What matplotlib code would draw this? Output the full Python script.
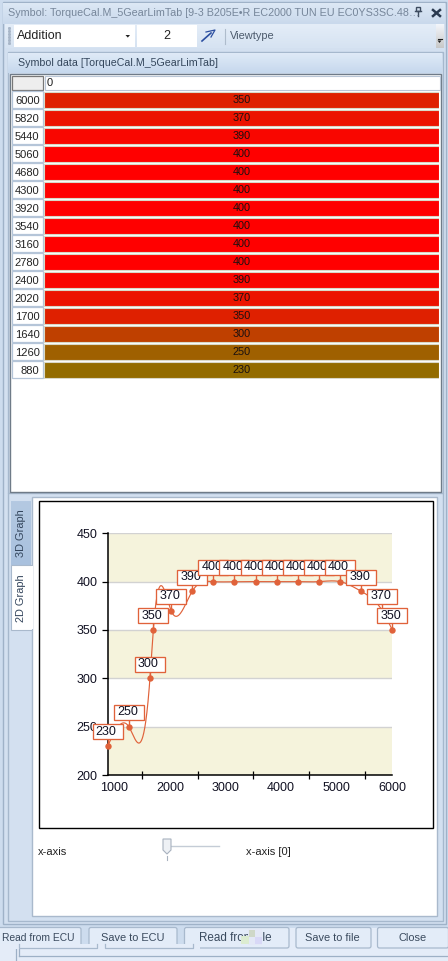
import numpy as np
import matplotlib
matplotlib.use("Agg")
import matplotlib.pyplot as plt
from matplotlib.patches import Rectangle, FancyBboxPatch, Polygon
from matplotlib.transforms import ScaledTranslation

plt.rcParams['font.family'] = ['Liberation Sans', 'DejaVu Sans']

# ---- data ----
rpm = [6000, 5820, 5440, 5060, 4680, 4300, 3920, 3540, 3160, 2780, 2400, 2020, 1700, 1640, 1260, 880]
torque = [350, 370, 390, 400, 400, 400, 400, 400, 400, 400, 390, 370, 350, 300, 250, 230]
x_labels = [1000, 2000, 3000, 4000, 5000, 6000]
x_minor = [1500, 2500, 3500, 4500, 5500]
y_ticks = [200, 250, 300, 350, 400, 450]
col_header = "0"
title_txt = "Symbol: TorqueCal.M_5GearLimTab [9-3 B205E\u2022R EC2000 TUN EU EC0YS3SC.48\u2026"
panel_txt = "Symbol data [TorqueCal.M_5GearLimTab]"
buttons = ["Read from ECU", "Save to ECU", "Read from file", "Save to file", "Close"]

W, H = 448, 961
fig = plt.figure(figsize=(W / 100, H / 100), dpi=100, facecolor="#cfdeef")

def box(x0, y0, x1, y1):
    """pixel box (top-left origin) to figure fraction rect"""
    return [x0 / W, 1 - y1 / H, (x1 - x0) / W, (y1 - y0) / H]

ui = fig.add_axes([0, 0, 1, 1], zorder=0)
ui.axis("off")

def rect(x0, y0, x1, y1, fc="none", ec="none", lw=0.8, z=1):
    ui.add_patch(Rectangle((x0, y0), x1 - x0, y1 - y0, fc=fc, ec=ec, lw=lw, zorder=z))

def grad(x0, y0, x1, y1, c0, c1, z=1):
    a = np.array(matplotlib.colors.to_rgb(c0))
    b = np.array(matplotlib.colors.to_rgb(c1))
    t = np.linspace(0, 1, 32)[:, None, None]
    ui.imshow(a[None, None, :] * (1 - t) + b[None, None, :] * t, extent=(x0, x1, y1, y0),
              aspect="auto", zorder=z, interpolation="bilinear")

def label(x, y, s, size=8, color="#1c1c1c", ha="left", **kw):
    return ui.text(x, y, s, fontsize=size, color=color, ha=ha, va="center", zorder=8, **kw)

# --- window frame ---
rect(0, 0, 448, 961, fc="#cddcee")
rect(2.5, 2, 445.5, 924, fc="#d3e0f0", ec="#9fb2c8", lw=1)
grad(3, 3, 445, 24, "#dde8f5", "#c9d9ec")
label(8, 13, title_txt, size=7.75, color="#76869a")
# pin & close
ui.plot([415, 421], [10.5, 10.5], color="#3d4c60", lw=1, zorder=6)
rect(416.3, 7, 419.6, 10.5, ec="#3d4c60", lw=1, z=6)
ui.plot([418, 418], [10.5, 16], color="#3d4c60", lw=1, zorder=6)
ui.plot([433, 440], [10, 16], color="#2a3a50", lw=1.8, zorder=6)
ui.plot([433, 440], [16, 10], color="#2a3a50", lw=1.8, zorder=6)

# --- toolbar ---
grad(5, 24, 444, 48, "#e4edf8", "#d6e3f2")
for yy in range(28, 46, 3):
    ui.plot([8.5], [yy], marker="s", ms=1.1, color="#a8b6c8", zorder=5)
rect(14, 25, 135, 47, fc="white")
rect(137, 25, 197, 47, fc="white")
label(17, 36, "Addition", size=9, color="#222222")
ui.add_patch(Polygon([[125.5, 35], [130, 35], [127.8, 37.6]], fc="#222222", zorder=6))
label(167, 36, "2", size=9, color="#222222", ha="center")
ui.plot([202, 211], [41, 33], color="#2b4ea0", lw=1.2, zorder=6)
ui.plot([206, 215, 211], [32, 30, 37], color="#2b4ea0", lw=0.9, zorder=6)
ui.plot([225, 225], [29, 44], color="#aebccc", lw=0.8, zorder=6)
label(230, 36, "Viewtype", size=7.9, color="#4c5a6c")
grad(436, 24, 444, 48, "#f3f6fb", "#c8c8c8", z=2)
ui.add_patch(Polygon([[437.5, 40.5], [441.5, 40.5], [439.5, 43]], fc="#222222", zorder=6))
ui.plot([437.5, 441.5], [39, 39], color="#222222", lw=0.8, zorder=6)

# --- table panel ---
rect(7.5, 52, 442.5, 493, fc="#d3e0f0", ec="#a6b8cd", lw=1)
grad(8, 53, 442, 73, "#dfeaf7", "#c6d8ed")
label(18, 63.5, panel_txt, size=7.7, color="#34465c")
rect(9.5, 73.5, 440.5, 491.5, fc="white", ec="#6f7b88", lw=1, z=2)
rect(11.5, 75.5, 42.5, 90, fc="#eeeeee", ec="#777777", lw=0.9, z=3)
rect(44.5, 75.5, 439.5, 90, fc="white", ec="#b9c6d6", lw=0.8, z=3)
label(47, 83, col_header, size=8)

ROW_TOP, ROW_H = 90.8, 18.0
for i, r in enumerate(rpm):
    rect(11.5, ROW_TOP + i * ROW_H + 0.5, 42.5, ROW_TOP + (i + 1) * ROW_H - 1, fc="white", ec="#b5c5d8", lw=0.9, z=3)
    label(39.5, ROW_TOP + i * ROW_H + 10.2, str(r), size=8, ha="right", color="#222222")

tbl = fig.add_axes(box(44, ROW_TOP, 439, ROW_TOP + len(rpm) * ROW_H), zorder=3)
tbl.axis("off")
tbl.set_xlim(0, 1)
tbl.set_ylim(len(rpm) - 0.5, -0.5)

def cell_color(v):
    r = min(v / 400, 1.0)
    return (r, 1 - r, 0)

tbl.barh(range(len(rpm)), [1] * len(rpm), height=0.88,
         color=[cell_color(v) for v in torque], edgecolor="#d9d9c8", linewidth=0.8)
for i, v in enumerate(torque):
    tbl.text(0.5, i + 0.02, str(v), ha="center", va="center", fontsize=7.8, color="#1a1010")

# --- graph panel ---
rect(7.5, 493, 442.5, 921, fc="#d3e0f0", ec="#a6b8cd", lw=1)
rect(31.5, 496.5, 436.5, 915.5, fc="white", ec="#a9b9cc", lw=1, z=2)
grad(11, 501, 31, 565, "#b4c9e2", "#a9c1de", z=2)
rect(11, 565, 32, 630, fc="white", ec="#a9b9cc", lw=0.8, z=2)
rect(31, 565.6, 33, 629.4, fc="white", z=3)
label(21, 533, "3D Graph", size=7.9, color="#33455c", ha="center", rotation=90)
label(21, 598, "2D Graph", size=7.9, color="#33455c", ha="center", rotation=90)
rect(38.5, 500.5, 432.5, 828, fc="white", ec="black", lw=1.0, z=3)

# --- chart ---
ORANGE = "#e0623a"
ax = fig.add_axes(box(107.7, 533.3, 392.3, 775), zorder=4)
ax.patch.set_alpha(0)
xs = np.array(rpm[::-1], float)
ys = np.array(torque[::-1], float)

def natural_spline(x, y, xn):
    n = len(x)
    h = np.diff(x)
    A = np.zeros((n, n))
    b = np.zeros(n)
    A[0, 0] = A[-1, -1] = 1
    for k in range(1, n - 1):
        A[k, k - 1] = h[k - 1]
        A[k, k] = 2 * (h[k - 1] + h[k])
        A[k, k + 1] = h[k]
        b[k] = 6 * ((y[k + 1] - y[k]) / h[k] - (y[k] - y[k - 1]) / h[k - 1])
    m = np.linalg.solve(A, b)
    j = np.clip(np.searchsorted(x, xn) - 1, 0, n - 2)
    t0 = x[j + 1] - xn
    t1 = xn - x[j]
    return (m[j] * t0**3 + m[j + 1] * t1**3) / (6 * h[j]) + \
           (y[j] / h[j] - m[j] * h[j] / 6) * t0 + (y[j + 1] / h[j] - m[j + 1] * h[j] / 6) * t1

ax.set_xlim(880, 6000)
ax.set_ylim(200, 450)
for k in range(0, len(y_ticks) - 1, 2):
    ax.axhspan(y_ticks[k], y_ticks[k + 1], color="#f5f3dc", lw=0, zorder=0)
ax.grid(axis="y", color="#d2d2d2", lw=1, zorder=1)
ax.set_axisbelow(True)
for s in ("top", "right"):
    ax.spines[s].set_visible(False)
for s in ("left", "bottom"):
    ax.spines[s].set_linewidth(1.1)
    ax.spines[s].set_zorder(2)
ax.set_yticks(y_ticks)
ax.set_xticks(x_labels)
ax.set_xticks(x_minor, minor=True)
ax.tick_params(axis="y", length=4, width=0.9, labelsize=9, pad=3.5, labelcolor="#111122")
ax.tick_params(axis="x", which="major", length=0, labelsize=9, pad=5, labelcolor="#111122")
ax.tick_params(axis="x", which="minor", direction="inout", length=6, width=0.9)
for t in ax.get_xticklabels() + ax.get_yticklabels():
    t.set_clip_on(False)

xx = np.linspace(880, 6000, 1200)
ax.plot(xx, natural_spline(xs, ys, xx), color=ORANGE, lw=0.85, zorder=3, clip_on=False)
ax.plot(xs, ys, ls="none", marker="o", ms=4.6, mfc=ORANGE, mec=ORANGE, mew=0, zorder=4, clip_on=False)

for n, (px, py) in enumerate(zip(xs, ys)):
    tr = ScaledTranslation(px, py, ax.transData)
    z = 5 + n * 0.01
    ax.plot([0, 0], [0, 7], color=ORANGE, lw=1, transform=tr, zorder=z, clip_on=False)
    ax.add_patch(Rectangle((-15, 6.5), 30, 15, fc="white", ec=ORANGE, lw=0.95, transform=tr,
                           zorder=z, clip_on=False))
    ax.text(-1.5, 14.2, str(int(py)), fontsize=9, color="#111122", ha="center", va="center",
            transform=tr, zorder=z, clip_on=False)

# --- slider ---
label(38, 852, "x-axis", size=8, color="#222222")
label(246, 852, "x-axis [0]", size=8, color="#222222")
ui.plot([170, 219], [845.5, 845.5], color="#c4ccd6", lw=1, zorder=5)
ui.add_patch(Polygon([[163, 839], [171, 839], [171, 850], [167, 854], [163, 850]],
                     fc="#eef1f5", ec="#a8b2bf", lw=0.8, zorder=6))
ui.plot([166.5, 166.5], [856, 860], color="#a8b2bf", lw=0.8, zorder=5)

# --- buttons and redraw artefact strip ---
rect(272, 928, 448, 949, fc="#e4ecf8", z=4)
rect(0, 948, 448, 961, fc="#e4ecf8", z=4)
spans = [(-8, 81), (89, 177), (184.5, 289), (296, 371), (377.5, 448.5)]
centers = [38, 132.5, 235.5, 332.5, 413]
sizes = [7.4, 7.9, 8.4, 7.9, 7.9]
for s, (a, b), c, fs in zip(buttons, spans, centers, sizes):
    ui.add_patch(FancyBboxPatch((a, 927.5), b - a, 20.5, boxstyle="round,pad=0,rounding_size=2",
                                fc="#e3ecf8", ec="#a8b9cd", lw=0.9, zorder=5))
    ui.text(c, 938, s, fontsize=fs, color="#3a4a5e", ha="center", va="center", zorder=6)
# strip over the left buttons, with ghost button bottoms
rect(0, 944, 200, 949, fc="#e4ecf8", z=6.5)
for a, b in [(19, 97), (104.5, 193)]:
    ui.plot([a, a, b, b], [944, 948, 948, 944], color="#a8b9cd", lw=0.9, zorder=6.6)
ui.plot([19, 448], [955.5, 955.5], color="#9db0c6", lw=0.9, zorder=5)
ui.plot([15.5, 15.5], [949, 961], color="#9db0c6", lw=0.9, zorder=5)
ui.plot([19, 19], [948, 956], color="#9db0c6", lw=0.9, zorder=5)
# glitch over "Read from file"
rect(248, 929, 262, 945, fc="#e3e8f6", z=7)
rect(241, 936, 249, 944, fc="#dcecd0", z=7)
rect(249, 930, 255, 937, fc="#cfd8c8", z=7)
rect(255, 937, 262, 944, fc="#d8d8f6", z=7)

ui.set_xlim(0, W)
ui.set_ylim(H, 0)

fig.savefig("out.png", dpi=100, facecolor=fig.get_facecolor())
